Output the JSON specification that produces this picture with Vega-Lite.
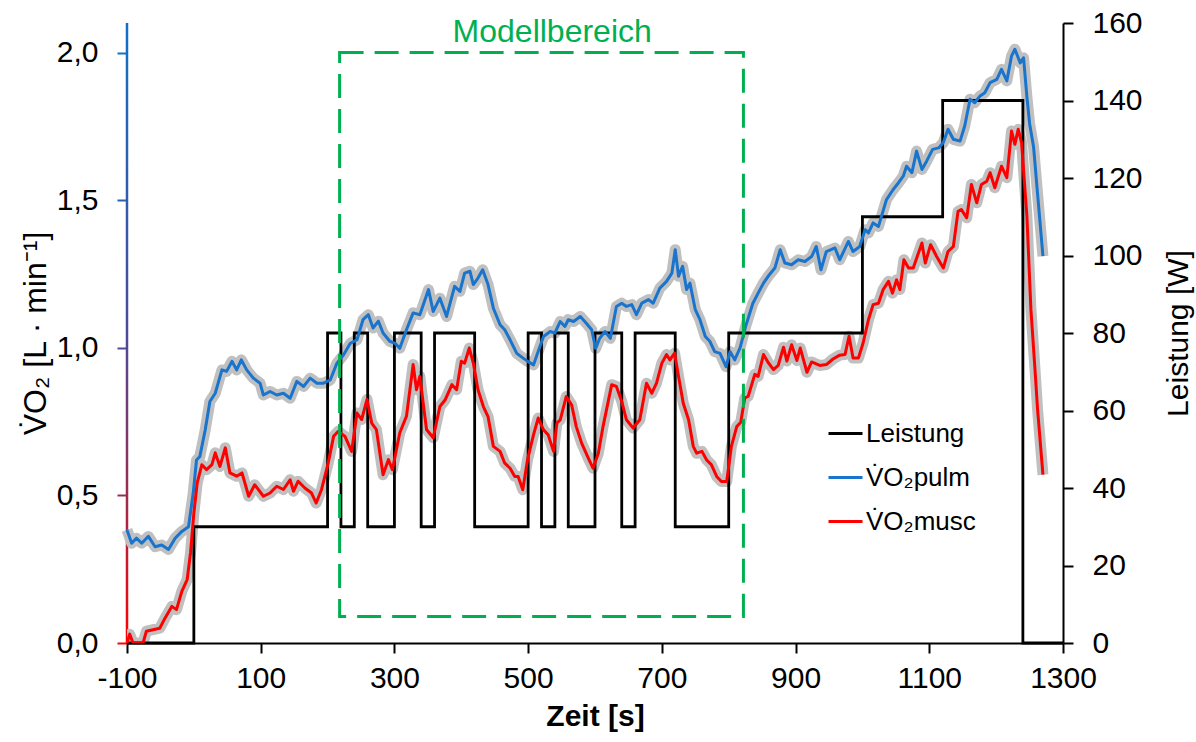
{
  "$schema": "https://vega.github.io/schema/vega-lite/v6.json",
  "width": 936,
  "height": 620,
  "autosize": "none",
  "padding": {"left": 127, "top": 23, "right": 133, "bottom": 99},
  "background": "white",
  "datasets": {
    "leistung": [
      {"t": -100, "w": 0}, {"t": 0, "w": 30}, {"t": 200, "w": 80}, {"t": 220, "w": 30},
      {"t": 240, "w": 80}, {"t": 260, "w": 30}, {"t": 300, "w": 80}, {"t": 340, "w": 30},
      {"t": 360, "w": 80}, {"t": 420, "w": 30}, {"t": 500, "w": 80}, {"t": 520, "w": 30},
      {"t": 540, "w": 80}, {"t": 560, "w": 30}, {"t": 600, "w": 80}, {"t": 640, "w": 30},
      {"t": 660, "w": 80}, {"t": 720, "w": 30}, {"t": 800, "w": 80}, {"t": 1000, "w": 110},
      {"t": 1120, "w": 140}, {"t": 1240, "w": 0}, {"t": 1300, "w": 0}
    ],
    "pulm": [
      {"t": -100, "v": 0.383}, {"t": -93, "v": 0.338}, {"t": -86, "v": 0.355}, {"t": -78, "v": 0.338},
      {"t": -68, "v": 0.361}, {"t": -58, "v": 0.326}, {"t": -48, "v": 0.332}, {"t": -38, "v": 0.317},
      {"t": -28, "v": 0.355}, {"t": -18, "v": 0.378}, {"t": -8, "v": 0.394}, {"t": -1, "v": 0.507},
      {"t": 4, "v": 0.62}, {"t": 9, "v": 0.632}, {"t": 17, "v": 0.722}, {"t": 24, "v": 0.818},
      {"t": 32, "v": 0.846}, {"t": 42, "v": 0.925}, {"t": 49, "v": 0.92}, {"t": 57, "v": 0.954},
      {"t": 64, "v": 0.925}, {"t": 71, "v": 0.959}, {"t": 79, "v": 0.925}, {"t": 89, "v": 0.897},
      {"t": 99, "v": 0.88}, {"t": 104, "v": 0.84}, {"t": 114, "v": 0.852}, {"t": 124, "v": 0.84},
      {"t": 134, "v": 0.846}, {"t": 144, "v": 0.829}, {"t": 154, "v": 0.886}, {"t": 164, "v": 0.869},
      {"t": 174, "v": 0.897}, {"t": 184, "v": 0.88}, {"t": 194, "v": 0.88}, {"t": 204, "v": 0.891},
      {"t": 214, "v": 0.948}, {"t": 224, "v": 0.976}, {"t": 234, "v": 1.015}, {"t": 244, "v": 1.027},
      {"t": 253, "v": 1.095}, {"t": 261, "v": 1.112}, {"t": 268, "v": 1.067}, {"t": 276, "v": 1.09},
      {"t": 283, "v": 1.05}, {"t": 293, "v": 1.022}, {"t": 301, "v": 1.015}, {"t": 308, "v": 0.998},
      {"t": 318, "v": 1.061}, {"t": 328, "v": 1.118}, {"t": 338, "v": 1.112}, {"t": 351, "v": 1.197},
      {"t": 358, "v": 1.123}, {"t": 368, "v": 1.168}, {"t": 378, "v": 1.106}, {"t": 390, "v": 1.208},
      {"t": 398, "v": 1.191}, {"t": 405, "v": 1.253}, {"t": 413, "v": 1.259}, {"t": 418, "v": 1.214},
      {"t": 425, "v": 1.236}, {"t": 432, "v": 1.264}, {"t": 440, "v": 1.214}, {"t": 448, "v": 1.134},
      {"t": 458, "v": 1.078}, {"t": 465, "v": 1.061}, {"t": 473, "v": 1.027}, {"t": 483, "v": 0.981},
      {"t": 493, "v": 0.964}, {"t": 500, "v": 0.953}, {"t": 508, "v": 0.942}, {"t": 515, "v": 0.987},
      {"t": 523, "v": 1.038}, {"t": 533, "v": 1.055}, {"t": 540, "v": 1.05}, {"t": 548, "v": 1.089},
      {"t": 555, "v": 1.072}, {"t": 560, "v": 1.095}, {"t": 568, "v": 1.089}, {"t": 578, "v": 1.106},
      {"t": 587, "v": 1.083}, {"t": 595, "v": 1.061}, {"t": 601, "v": 0.998}, {"t": 607, "v": 1.032},
      {"t": 615, "v": 1.055}, {"t": 623, "v": 1.032}, {"t": 632, "v": 1.14}, {"t": 640, "v": 1.151},
      {"t": 647, "v": 1.14}, {"t": 655, "v": 1.146}, {"t": 662, "v": 1.112}, {"t": 670, "v": 1.151},
      {"t": 680, "v": 1.163}, {"t": 687, "v": 1.151}, {"t": 697, "v": 1.202}, {"t": 707, "v": 1.225},
      {"t": 715, "v": 1.253}, {"t": 720, "v": 1.332}, {"t": 725, "v": 1.242}, {"t": 731, "v": 1.276},
      {"t": 737, "v": 1.197}, {"t": 742, "v": 1.219}, {"t": 750, "v": 1.129}, {"t": 757, "v": 1.095},
      {"t": 765, "v": 1.038}, {"t": 772, "v": 1.021}, {"t": 779, "v": 0.987}, {"t": 787, "v": 0.981},
      {"t": 796, "v": 0.936}, {"t": 802, "v": 0.987}, {"t": 809, "v": 0.959}, {"t": 817, "v": 1.0},
      {"t": 825, "v": 1.07}, {"t": 836, "v": 1.15}, {"t": 844, "v": 1.185}, {"t": 852, "v": 1.219},
      {"t": 859, "v": 1.242}, {"t": 869, "v": 1.27}, {"t": 877, "v": 1.332}, {"t": 884, "v": 1.287},
      {"t": 894, "v": 1.281}, {"t": 904, "v": 1.298}, {"t": 914, "v": 1.292}, {"t": 924, "v": 1.309},
      {"t": 931, "v": 1.343}, {"t": 938, "v": 1.264}, {"t": 946, "v": 1.326}, {"t": 959, "v": 1.338},
      {"t": 966, "v": 1.298}, {"t": 979, "v": 1.36}, {"t": 986, "v": 1.326}, {"t": 996, "v": 1.343},
      {"t": 1004, "v": 1.4}, {"t": 1009, "v": 1.389}, {"t": 1016, "v": 1.423}, {"t": 1024, "v": 1.411},
      {"t": 1036, "v": 1.502}, {"t": 1046, "v": 1.536}, {"t": 1054, "v": 1.559}, {"t": 1061, "v": 1.581},
      {"t": 1066, "v": 1.615}, {"t": 1074, "v": 1.593}, {"t": 1081, "v": 1.666}, {"t": 1089, "v": 1.604},
      {"t": 1096, "v": 1.632}, {"t": 1105, "v": 1.672}, {"t": 1114, "v": 1.677}, {"t": 1121, "v": 1.695},
      {"t": 1128, "v": 1.74}, {"t": 1136, "v": 1.706}, {"t": 1146, "v": 1.7}, {"t": 1153, "v": 1.751},
      {"t": 1161, "v": 1.842}, {"t": 1168, "v": 1.83}, {"t": 1176, "v": 1.853}, {"t": 1183, "v": 1.864},
      {"t": 1191, "v": 1.898}, {"t": 1201, "v": 1.909}, {"t": 1208, "v": 1.943}, {"t": 1216, "v": 1.904},
      {"t": 1223, "v": 1.988}, {"t": 1228, "v": 2.011}, {"t": 1236, "v": 1.965}, {"t": 1241, "v": 1.982},
      {"t": 1246, "v": 1.85}, {"t": 1250, "v": 1.76}, {"t": 1256, "v": 1.68}, {"t": 1262, "v": 1.52},
      {"t": 1270, "v": 1.31}
    ],
    "musc": [
      {"t": -100, "v": 0.0}, {"t": -96, "v": 0.03}, {"t": -91, "v": 0.0}, {"t": -83, "v": 0.0},
      {"t": -76, "v": 0.0}, {"t": -71, "v": 0.04}, {"t": -61, "v": 0.045}, {"t": -51, "v": 0.05},
      {"t": -43, "v": 0.085}, {"t": -33, "v": 0.124}, {"t": -26, "v": 0.113}, {"t": -18, "v": 0.175},
      {"t": -10, "v": 0.215}, {"t": -5, "v": 0.305}, {"t": 0, "v": 0.44}, {"t": 5, "v": 0.542},
      {"t": 12, "v": 0.604}, {"t": 19, "v": 0.587}, {"t": 27, "v": 0.604}, {"t": 32, "v": 0.644},
      {"t": 39, "v": 0.598}, {"t": 47, "v": 0.661}, {"t": 54, "v": 0.576}, {"t": 64, "v": 0.565},
      {"t": 72, "v": 0.576}, {"t": 82, "v": 0.497}, {"t": 91, "v": 0.536}, {"t": 104, "v": 0.497},
      {"t": 114, "v": 0.508}, {"t": 124, "v": 0.531}, {"t": 134, "v": 0.52}, {"t": 144, "v": 0.553},
      {"t": 149, "v": 0.514}, {"t": 156, "v": 0.548}, {"t": 166, "v": 0.525}, {"t": 176, "v": 0.508},
      {"t": 183, "v": 0.474}, {"t": 191, "v": 0.52}, {"t": 201, "v": 0.61}, {"t": 209, "v": 0.7},
      {"t": 216, "v": 0.717}, {"t": 226, "v": 0.7}, {"t": 236, "v": 0.649}, {"t": 244, "v": 0.779},
      {"t": 251, "v": 0.757}, {"t": 259, "v": 0.825}, {"t": 266, "v": 0.745}, {"t": 273, "v": 0.723},
      {"t": 283, "v": 0.57}, {"t": 291, "v": 0.621}, {"t": 297, "v": 0.587}, {"t": 308, "v": 0.712},
      {"t": 318, "v": 0.768}, {"t": 328, "v": 0.943}, {"t": 333, "v": 0.858}, {"t": 338, "v": 0.903},
      {"t": 348, "v": 0.723}, {"t": 358, "v": 0.695}, {"t": 368, "v": 0.801}, {"t": 376, "v": 0.824},
      {"t": 386, "v": 0.875}, {"t": 393, "v": 0.858}, {"t": 400, "v": 0.954}, {"t": 405, "v": 0.948},
      {"t": 412, "v": 0.999}, {"t": 418, "v": 0.948}, {"t": 425, "v": 0.858}, {"t": 433, "v": 0.801},
      {"t": 440, "v": 0.767}, {"t": 448, "v": 0.666}, {"t": 458, "v": 0.649}, {"t": 465, "v": 0.609},
      {"t": 473, "v": 0.592}, {"t": 480, "v": 0.564}, {"t": 485, "v": 0.564}, {"t": 492, "v": 0.519},
      {"t": 499, "v": 0.62}, {"t": 508, "v": 0.705}, {"t": 515, "v": 0.762}, {"t": 523, "v": 0.722},
      {"t": 530, "v": 0.705}, {"t": 538, "v": 0.649}, {"t": 543, "v": 0.745}, {"t": 548, "v": 0.756},
      {"t": 557, "v": 0.835}, {"t": 565, "v": 0.807}, {"t": 572, "v": 0.733}, {"t": 580, "v": 0.677},
      {"t": 590, "v": 0.626}, {"t": 597, "v": 0.592}, {"t": 605, "v": 0.643}, {"t": 612, "v": 0.733},
      {"t": 625, "v": 0.875}, {"t": 632, "v": 0.869}, {"t": 640, "v": 0.818}, {"t": 647, "v": 0.756},
      {"t": 657, "v": 0.728}, {"t": 667, "v": 0.756}, {"t": 677, "v": 0.88}, {"t": 685, "v": 0.846},
      {"t": 692, "v": 0.88}, {"t": 700, "v": 0.948}, {"t": 707, "v": 0.977}, {"t": 712, "v": 0.959},
      {"t": 719, "v": 0.982}, {"t": 725, "v": 0.903}, {"t": 732, "v": 0.812}, {"t": 740, "v": 0.756},
      {"t": 747, "v": 0.666}, {"t": 752, "v": 0.643}, {"t": 760, "v": 0.649}, {"t": 767, "v": 0.62},
      {"t": 774, "v": 0.604}, {"t": 782, "v": 0.564}, {"t": 789, "v": 0.547}, {"t": 797, "v": 0.547},
      {"t": 804, "v": 0.666}, {"t": 812, "v": 0.733}, {"t": 818, "v": 0.748}, {"t": 824, "v": 0.83},
      {"t": 829, "v": 0.835}, {"t": 839, "v": 0.91}, {"t": 844, "v": 0.903}, {"t": 852, "v": 0.977},
      {"t": 859, "v": 0.95}, {"t": 867, "v": 0.926}, {"t": 874, "v": 0.94}, {"t": 882, "v": 1.002},
      {"t": 887, "v": 0.955}, {"t": 894, "v": 1.01}, {"t": 902, "v": 0.957}, {"t": 907, "v": 0.999},
      {"t": 917, "v": 0.917}, {"t": 924, "v": 0.952}, {"t": 936, "v": 0.94}, {"t": 946, "v": 0.943},
      {"t": 956, "v": 0.962}, {"t": 966, "v": 0.975}, {"t": 974, "v": 0.977}, {"t": 980, "v": 1.039},
      {"t": 986, "v": 0.965}, {"t": 994, "v": 0.965}, {"t": 1001, "v": 1.016}, {"t": 1009, "v": 1.095},
      {"t": 1016, "v": 1.146}, {"t": 1024, "v": 1.151}, {"t": 1031, "v": 1.197}, {"t": 1039, "v": 1.225},
      {"t": 1045, "v": 1.185}, {"t": 1051, "v": 1.23}, {"t": 1056, "v": 1.197}, {"t": 1062, "v": 1.298},
      {"t": 1069, "v": 1.27}, {"t": 1076, "v": 1.27}, {"t": 1089, "v": 1.355}, {"t": 1094, "v": 1.287},
      {"t": 1102, "v": 1.349}, {"t": 1111, "v": 1.309}, {"t": 1121, "v": 1.27}, {"t": 1128, "v": 1.326},
      {"t": 1136, "v": 1.343}, {"t": 1143, "v": 1.462}, {"t": 1148, "v": 1.468}, {"t": 1156, "v": 1.44},
      {"t": 1163, "v": 1.553}, {"t": 1171, "v": 1.491}, {"t": 1178, "v": 1.553}, {"t": 1186, "v": 1.564},
      {"t": 1191, "v": 1.593}, {"t": 1198, "v": 1.542}, {"t": 1208, "v": 1.615}, {"t": 1216, "v": 1.576},
      {"t": 1223, "v": 1.734}, {"t": 1228, "v": 1.689}, {"t": 1233, "v": 1.74}, {"t": 1238, "v": 1.695},
      {"t": 1246, "v": 1.446}, {"t": 1252, "v": 1.13}, {"t": 1258, "v": 0.93}, {"t": 1262, "v": 0.79},
      {"t": 1266, "v": 0.68}, {"t": 1270, "v": 0.57}
    ]
  },
  "layer": [
    {
      "data": {"values": [{"x": -100, "y1": 0, "y2": 2.1}]},
      "mark": {
        "type": "bar",
        "width": 2.5,
        "fill": {
          "gradient": "linear", "x1": 0, "y1": 0, "x2": 0, "y2": 1,
          "stops": [
            {"offset": 0, "color": "#1070C8"},
            {"offset": 0.5, "color": "#4C4A9C"},
            {"offset": 0.76, "color": "#9C2C4E"},
            {"offset": 1, "color": "#FF0000"}
          ]
        }
      },
      "encoding": {
        "x": {"field": "x", "type": "quantitative", "scale": {"domain": [-100, 1300], "nice": false, "zero": false, "padding": 0},
          "axis": {"values": [-100, 100, 300, 500, 700, 900, 1100, 1300], "labelExpr": "'' + datum.value", "labelFlush": false, "labelOverlap": false, "title": "Zeit [s]", "titleFontWeight": "bold", "labelPadding": 10, "titlePadding": 8}},
        "y": {"field": "y1", "type": "quantitative", "scale": {"domain": [0, 2.1], "nice": false, "zero": true, "padding": 0},
          "axis": {"orient": "left", "domain": false, "values": [0, 0.5, 1, 1.5, 2],
            "labelExpr": "replace(format(datum.value, '.1f'), '.', ',')", "labelFlush": false,
            "title": "V̇O₂ [L · min⁻¹]", "titleFontSize": 32, "labelPadding": 19, "titlePadding": 4,
            "tickColor": {"condition": [
              {"test": "datum.value >= 1.75", "value": "#1270C6"},
              {"test": "datum.value >= 1.25", "value": "#2C5EB2"},
              {"test": "datum.value >= 0.75", "value": "#504898"},
              {"test": "datum.value >= 0.25", "value": "#9C2C4E"}
            ], "value": "#FF0000"}}},
        "y2": {"field": "y2"}
      }
    },
    {
      "data": {"name": "pulm"},
      "mark": {"type": "line", "color": "#C0C0C0", "strokeWidth": 11, "strokeJoin": "round"},
      "encoding": {
        "x": {"field": "t", "type": "quantitative"},
        "y": {"field": "v", "type": "quantitative", "scale": {"domain": [0, 2.1], "nice": false}, "axis": null}
      }
    },
    {
      "data": {"name": "musc"},
      "mark": {"type": "line", "color": "#C0C0C0", "strokeWidth": 11, "strokeJoin": "round", "clip": true},
      "encoding": {
        "x": {"field": "t", "type": "quantitative"},
        "y": {"field": "v", "type": "quantitative", "scale": {"domain": [0, 2.1], "nice": false}, "axis": null}
      }
    },
    {
      "data": {"name": "leistung"},
      "mark": {"type": "line", "interpolate": "step-after", "strokeWidth": 2.8},
      "encoding": {
        "x": {"field": "t", "type": "quantitative"},
        "y": {"field": "w", "type": "quantitative", "scale": {"domain": [0, 160], "nice": false},
          "axis": {"orient": "right", "values": [0, 20, 40, 60, 80, 100, 120, 140, 160], "labelFlush": false, "title": "Leistung [W]", "titleAngle": 270, "titleBaseline": "top", "labelPadding": 19, "titlePadding": 21}},
        "color": {"datum": "Leistung", "scale": {"domain": ["Leistung", "V̇O₂pulm", "V̇O₂musc"], "range": ["#000000", "#1874CD", "#FF0000"]}, "legend": {"title": null}}
      }
    },
    {
      "data": {"name": "pulm"},
      "mark": {"type": "line", "strokeWidth": 3, "strokeJoin": "round"},
      "encoding": {
        "x": {"field": "t", "type": "quantitative"},
        "y": {"field": "v", "type": "quantitative", "scale": {"domain": [0, 2.1], "nice": false}, "axis": null},
        "color": {"datum": "V̇O₂pulm", "legend": {"title": null}}
      }
    },
    {
      "data": {"name": "musc"},
      "mark": {"type": "line", "strokeWidth": 3, "strokeJoin": "round", "clip": true},
      "encoding": {
        "x": {"field": "t", "type": "quantitative"},
        "y": {"field": "v", "type": "quantitative", "scale": {"domain": [0, 2.1], "nice": false}, "axis": null},
        "color": {"datum": "V̇O₂musc", "legend": {"title": null}}
      }
    },
    {
      "data": {"values": [{"x1": 218, "x2": 822, "y1": 0.09, "y2": 2.0}]},
      "mark": {"type": "rect", "fill": null, "fillOpacity": 0, "stroke": "#00B050", "strokeWidth": 3, "strokeDash": [24, 11]},
      "encoding": {
        "x": {"field": "x1", "type": "quantitative"},
        "x2": {"field": "x2"},
        "y": {"field": "y1", "type": "quantitative", "scale": {"domain": [0, 2.1], "nice": false}, "axis": null},
        "y2": {"field": "y2"}
      }
    },
    {
      "data": {"values": [{"x": 536, "y": 2.035, "label": "Modellbereich"}]},
      "mark": {"type": "text", "color": "#00B050", "fontSize": 32, "font": "Liberation Sans", "align": "center", "baseline": "alphabetic"},
      "encoding": {
        "x": {"field": "x", "type": "quantitative"},
        "y": {"field": "y", "type": "quantitative", "scale": {"domain": [0, 2.1], "nice": false}, "axis": null},
        "text": {"field": "label"}
      }
    }
  ],
  "resolve": {"scale": {"y": "independent"}},
  "config": {
    "font": "Liberation Sans",
    "view": {"stroke": null},
    "scale": {"continuousPadding": 0},
    "axis": {
      "grid": false, "labelFont": "Liberation Sans", "titleFont": "Liberation Sans",
      "labelColor": "#000000", "titleColor": "#000000", "labelFontSize": 30, "titleFontSize": 30,
      "titleFontWeight": "normal", "tickSize": 10, "tickWidth": 2, "domainWidth": 2,
      "domainColor": "#000000", "tickColor": "#000000"
    },
    "legend": {
      "orient": "none", "legendX": 700, "legendY": 392, "symbolType": "stroke", "symbolSize": 1156,
      "symbolStrokeWidth": 3, "labelFontSize": 26, "labelFont": "Liberation Sans", "labelColor": "#000000",
      "rowPadding": 12, "labelOffset": 2, "padding": 0
    }
  }
}
